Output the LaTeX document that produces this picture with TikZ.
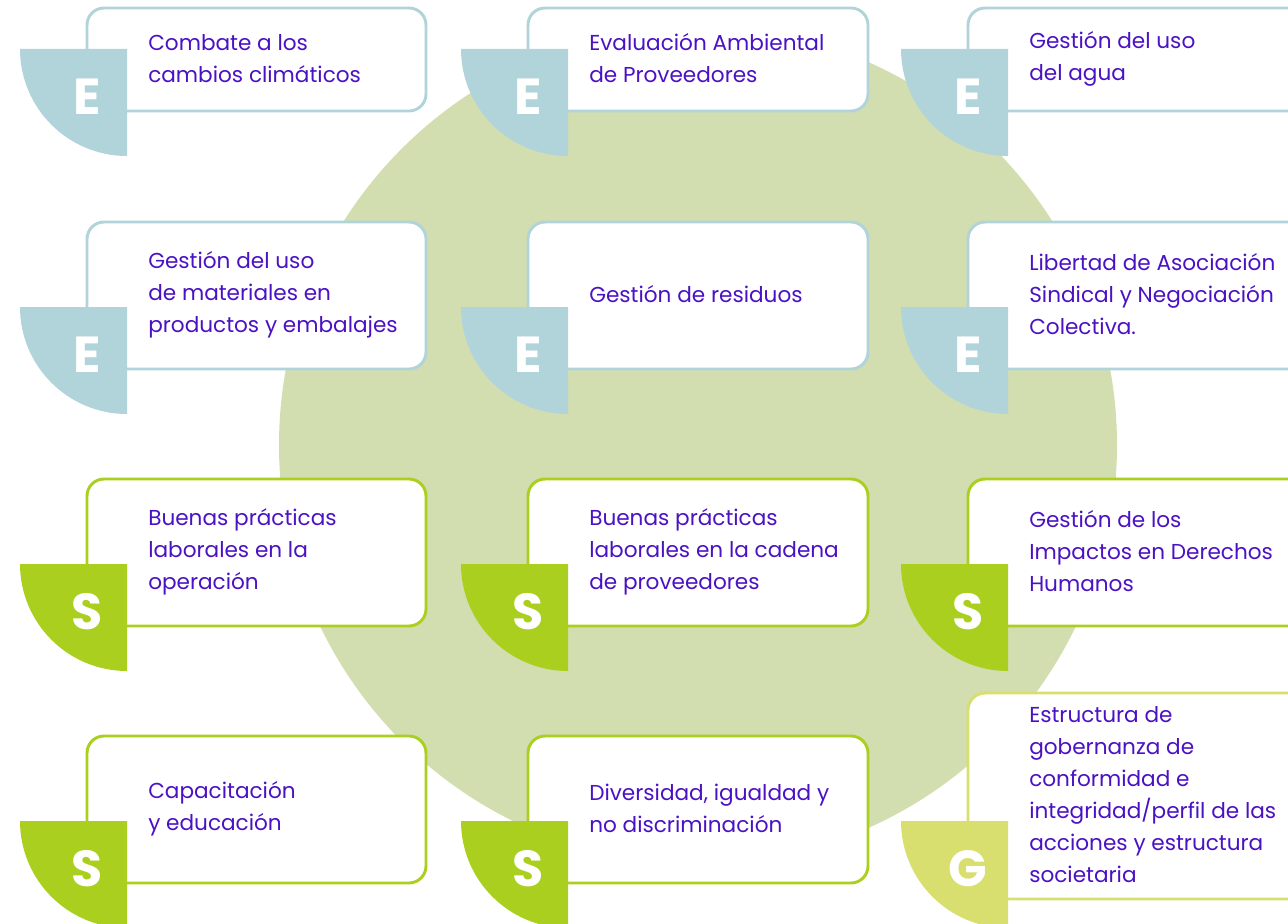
\documentclass[tikz,border=0pt]{standalone}
\usepackage{fontspec}
\setmainfont{Poppins}
\definecolor{eblue}{HTML}{B1D3DA}
\definecolor{sgreen}{HTML}{AACF1F}
\definecolor{gyellow}{HTML}{D9DF6E}
\definecolor{bigcircle}{HTML}{D2DEB0}
\definecolor{txtpurple}{HTML}{4B12C4}
\tikzset{
  cardbox/.style={fill=white, line width=2.2pt, rounded corners=12.75pt},
  lbl/.style={anchor=west, align=left, inner sep=0pt, text=txtpurple, font=\fontsize{16.2}{24}\selectfont},
  letter/.style={text=white, inner sep=0pt, font=\fontsize{38}{38}\selectfont\bfseries},
}
% #1 left x, #2 top y, #3 bottom y, #4 right x, #5 colour, #6 letter, #7 name, #8 quadrant centre y, #9 text
\newcommand\esgcard[9]{%
  \draw[cardbox, draw=#5] (#1,#2) rectangle (#4,#3);
  \fill[#5] (#1+40,#8) -- ++(-107,0) arc[start angle=180, end angle=90, radius=107] -- cycle;
  \node[letter] (#7L) at (#1,#8+48) {#6};
  \node[lbl] (#7) at ({#1+61},{(#2+#3)/2-1}) {#9};
}
\begin{document}
\begin{tikzpicture}[x=0.75pt,y=-0.75pt]
\useasboundingbox (0,0) rectangle (1288,924);
\clip (0,0) rectangle (1288,924);
\fill[bigcircle] (698,445) circle (419);
% row 1
\esgcard{87}{8}{111}{426}{eblue}{E}{a1}{49}{Combate a los\\cambios climáticos}
\esgcard{528}{8}{111}{868}{eblue}{E}{a2}{49}{Evaluación Ambiental\\de Proveedores}
\esgcard{968}{8}{111}{1320}{eblue}{E}{a3}{49}{Gestión del uso\\del agua}
% row 2
\esgcard{87}{222}{369}{426}{eblue}{E}{b1}{307}{Gestión del uso\\de materiales en\\productos y embalajes}
\esgcard{528}{222}{369}{868}{eblue}{E}{b2}{307}{Gestión de residuos}
\esgcard{968}{222}{369}{1320}{eblue}{E}{b3}{307}{Libertad de Asociación\\Sindical y Negociación\\Colectiva.}
% row 3
\esgcard{87}{479}{626}{426}{sgreen}{S}{c1}{564}{Buenas prácticas\\laborales en la\\operación}
\esgcard{528}{479}{626}{868}{sgreen}{S}{c2}{564}{Buenas prácticas\\laborales en la cadena\\de proveedores}
\esgcard{968}{479}{626}{1320}{sgreen}{S}{c3}{564}{Gestión de los\\Impactos en Derechos\\Humanos}
% row 4
\esgcard{87}{736}{883}{426}{sgreen}{S}{d1}{821}{Capacitación\\y educación}
\esgcard{528}{736}{883}{868}{sgreen}{S}{d2}{821}{Diversidad, igualdad y\\no discriminación}
\esgcard{968}{693}{899}{1320}{gyellow}{G}{d3}{821}{Estructura de\\gobernanza de\\conformidad e\\integridad/perfil de las\\acciones y estructura\\societaria}
\end{tikzpicture}
\end{document}
